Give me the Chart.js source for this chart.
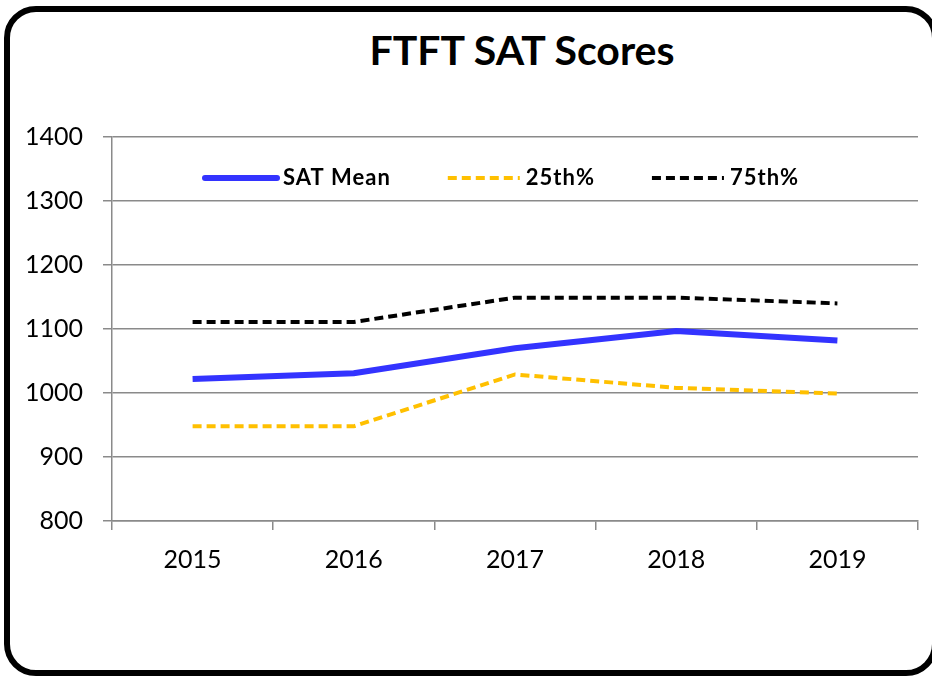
<!DOCTYPE html>
<html>
<head>
<meta charset="utf-8">
<script src="https://cdn.jsdelivr.net/npm/chart.js@4.4.1/dist/chart.umd.min.js"></script>
<style>
    html, body { margin: 0; padding: 0; background: #fff; overflow: hidden; }
    #wrap { position: relative; width: 932px; height: 677px; overflow: hidden; }
    #frame {
        position: absolute; left: 4px; top: 6px; width: 934px; height: 670px;
        box-sizing: border-box; border: 6px solid #000; border-radius: 32px;
    }
    #title {
        position: absolute; left: 0; width: 1044px; top: 25px; text-align: center;
        font-family: Lato, "Noto Sans", sans-serif; font-weight: bold; font-size: 41px; color: #000;
    }
    #chart { position: absolute; left: 0; top: 0; }
</style>
</head>
<body>
<div id="wrap">
    <div id="frame"></div>
    <div id="title">FTFT SAT Scores</div>
    <canvas id="chart" width="932" height="677"></canvas>
</div>
<script>
var years = ['2015', '2016', '2017', '2018', '2019'];
var satMean = [1022, 1031, 1070, 1097, 1082];
var pct25 = [948, 948, 1029, 1008, 999];
var pct75 = [1111, 1111, 1149, 1149, 1140];
var yTicks = [800, 900, 1000, 1100, 1200, 1300, 1400];

var gridColor = '#8a8a8a';
var fontFamily = 'Lato, "Noto Sans", sans-serif';

// legend drawn inside the plot area, like the Excel original
var insideLegend = {
    id: 'insideLegend',
    afterDatasetsDraw: function (chart) {
        var ctx = chart.ctx;
        var area = chart.chartArea;
        var y = area.top + 41;
        var x = area.left + 93;
        ctx.save();
        ctx.font = 'bold 22px ' + fontFamily;
        ctx.letterSpacing = '1px';
        ctx.textBaseline = 'middle';
        ctx.fillStyle = '#000';
        chart.data.datasets.forEach(function (ds) {
            ctx.beginPath();
            ctx.strokeStyle = ds.borderColor;
            ctx.lineWidth = ds.borderWidth;
            ctx.lineCap = ds.borderDash ? 'butt' : 'round';
            ctx.setLineDash(ds.borderDash || []);
            ctx.moveTo(x, y);
            ctx.lineTo(x + 72, y);
            ctx.stroke();
            ctx.setLineDash([]);
            ctx.fillText(ds.label, x + 78, y);
            x = x + 78 + ctx.measureText(ds.label).width + 57;
        });
        ctx.restore();
    }
};

new Chart(document.getElementById('chart'), {
    type: 'line',
    data: {
        labels: years,
        datasets: [
            { label: 'SAT Mean', data: satMean, borderColor: '#3333FF', borderWidth: 6 },
            { label: '25th%', data: pct25, borderColor: '#FFC000', borderWidth: 4, borderDash: [9, 5] },
            { label: '75th%', data: pct75, borderColor: '#000000', borderWidth: 4, borderDash: [9, 5] }
        ]
    },
    options: {
        responsive: false,
        animation: false,
        layout: { padding: { top: 137, right: 14, left: 0, bottom: 0 } },
        elements: {
            point: { radius: 0 },
            line: { tension: 0, fill: false, borderCapStyle: 'butt' }
        },
        plugins: {
            legend: { display: false },
            title: { display: false },
            tooltip: { enabled: false }
        },
        scales: {
            x: {
                offset: true,
                grid: { offset: true, drawOnChartArea: false, drawTicks: true, tickLength: 9, color: gridColor, lineWidth: 1.5 },
                border: { display: true, color: gridColor, width: 1.5 },
                ticks: { color: '#000', padding: 15, font: { family: fontFamily, size: 25 } },
                afterFit: function (scale) { scale.height = 156; }
            },
            y: {
                min: 800,
                max: 1400,
                afterBuildTicks: function (scale) {
                    scale.ticks = yTicks.map(function (v) { return { value: v }; });
                },
                grid: { color: gridColor, lineWidth: 1.5, tickLength: 9 },
                border: { display: true, color: gridColor, width: 1.5 },
                ticks: {
                    color: '#000', padding: 20, font: { family: fontFamily, size: 25 },
                    callback: function (value) { return String(value); }
                },
                afterFit: function (scale) { scale.width = 112; }
            }
        }
    },
    plugins: [insideLegend]
});
</script>
</body>
</html>
